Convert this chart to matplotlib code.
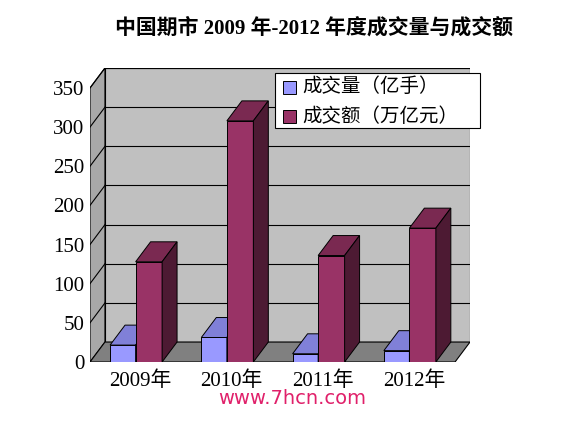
import matplotlib
matplotlib.use("Agg")
import matplotlib.pyplot as plt
from matplotlib.patches import Polygon, Rectangle

categories = ["2009年", "2010年", "2011年", "2012年"]
volume = [21.6, 31.3, 10.5, 14.5]        # 成交量（亿手）
turnover = [128, 308, 136, 171]          # 成交额（万亿元）
series_names = ["成交量（亿手）", "成交额（万亿元）"]
yticks = [0, 50, 100, 150, 200, 250, 300, 350]

FAM = ["Liberation Serif", "Noto Sans CJK SC"]
W, H = 581, 423
fig = plt.figure(figsize=(W/100, H/100), dpi=100)
fig.patch.set_facecolor("white")
ax = fig.add_axes([90/W, (H-362)/H, 380/W, 294/H])
dx, dy = 0.164, 25.5
ymax = 350
ax.set_xlim(0, 4 + dx)
ax.set_ylim(0, ymax + dy)
for s in ax.spines.values():
    s.set_visible(False)
ax.set_xticks([])
ax.set_yticks(yticks)
ax.set_yticklabels([str(v) for v in yticks], fontsize=15, family=FAM)
ax.tick_params(axis="y", length=0, pad=4)
ax.patch.set_alpha(0)

# walls
ax.add_patch(Rectangle((dx, dy), 4, ymax, facecolor="#c0c0c0", edgecolor="black", lw=0.8, zorder=1))
ax.add_patch(Polygon([(0, 0), (dx, dy), (dx, ymax+dy), (0, ymax)], facecolor="#a8a8a8", edgecolor="black", lw=0.8, zorder=1))
ax.add_patch(Polygon([(0, 0), (4, 0), (4+dx, dy), (dx, dy)], facecolor="#808080", edgecolor="black", lw=0.8, zorder=1))
for v in yticks[1:]:
    ax.plot([dx, 4+dx], [v+dy, v+dy], color="black", lw=0.8, zorder=2)
    ax.plot([0, dx], [v, v+dy], color="black", lw=0.8, zorder=2)

def bar3d(x0, x1, h, front, top, side):
    ax.add_patch(Polygon([(x0, 0), (x1, 0), (x1, h), (x0, h)], facecolor=front, edgecolor="black", lw=0.7, zorder=3))
    ax.add_patch(Polygon([(x0, h), (x1, h), (x1+dx, h+dy), (x0+dx, h+dy)], facecolor=top, edgecolor="black", lw=0.7, zorder=3))
    ax.add_patch(Polygon([(x1, 0), (x1+dx, dy), (x1+dx, h+dy), (x1, h)], facecolor=side, edgecolor="black", lw=0.7, zorder=3))

for i, (v, t) in enumerate(zip(volume, turnover)):
    c = 0.5 + i
    bar3d(c-0.28, c, v, "#9999ff", "#8080d8", "#5c5cb0")
    bar3d(c, c+0.29, t, "#993366", "#7a2951", "#4d1a33")
    ax.text(c+0.05, -12, categories[i], ha="center", va="top", fontsize=15, family=FAM)

# legend
fig.patches.append(Rectangle((275/W, (H-128)/H), 205/W, 55/H, transform=fig.transFigure,
                             facecolor="white", edgecolor="black", lw=0.8))
for k, (name, col) in enumerate(zip(series_names, ["#9999ff", "#993366"])):
    yc = 87 + k*29
    fig.patches.append(Rectangle((283/W, (H-yc-7)/H), 13/W, 13/H, transform=fig.transFigure,
                                 facecolor=col, edgecolor="black", lw=0.7))
    fig.text(302/W, (H-yc)/H, name, fontsize=14, family=["Noto Sans CJK SC"], va="center")

fig.text(314/W, (H-28)/H, "中国期市 2009 年-2012 年度成交量与成交额", ha="center", va="center",
         fontsize=15, fontweight="bold", family=["Liberation Serif", "Noto Sans CJK SC"])
fig.text(292/W, (H-398)/H, "www.7hcn.com", ha="center", va="center", fontsize=14,
         color="#e0206a", family=["DejaVu Sans"])
fig.savefig("out.png", dpi=100)
